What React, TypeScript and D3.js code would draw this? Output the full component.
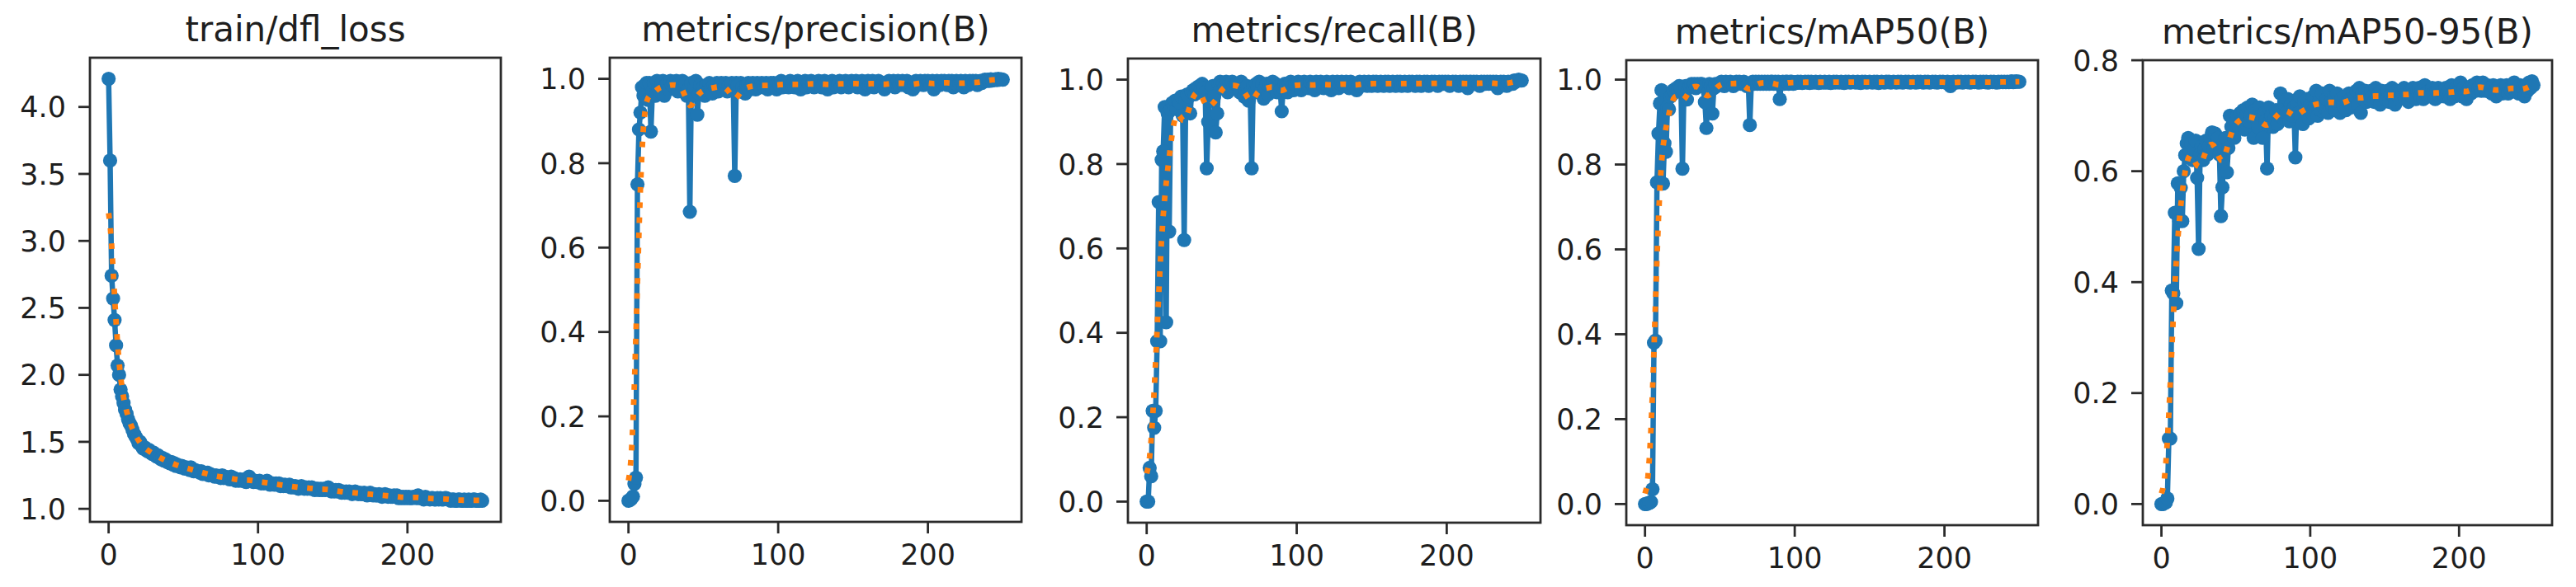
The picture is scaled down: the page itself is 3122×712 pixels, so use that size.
import React from 'react';
import * as d3 from 'd3';

// ---------------- data ----------------
const EPOCH_COUNT = 251;
const epochs = d3.range(EPOCH_COUNT);

const titles = [
  'train/dfl_loss',
  'metrics/precision(B)',
  'metrics/recall(B)',
  'metrics/mAP50(B)',
  'metrics/mAP50-95(B)',
];

const xTicks = [0, 100, 200];
const yTicksLoss = [1.0, 1.5, 2.0, 2.5, 3.0, 3.5, 4.0];
const yTicksUnit = [0.0, 0.2, 0.4, 0.6, 0.8, 1.0];
const yTicksMap95 = [0.0, 0.2, 0.4, 0.6, 0.8];

const dflLoss = [
  4.21, 3.60, 2.74, 2.57, 2.41, 2.22, 2.07, 2.00, 1.89, 1.84,
  1.79, 1.74, 1.71, 1.67, 1.64, 1.62, 1.59, 1.56, 1.54, 1.52,
  1.49, 1.50, 1.47, 1.45, 1.46, 1.44, 1.43, 1.44, 1.42, 1.41,
  1.42, 1.40, 1.39, 1.40, 1.38, 1.37, 1.38, 1.36, 1.37, 1.35,
  1.35, 1.34, 1.35, 1.33, 1.34, 1.32, 1.33, 1.32, 1.31, 1.32,
  1.31, 1.30, 1.31, 1.30, 1.29, 1.31, 1.29, 1.28, 1.29, 1.28,
  1.28, 1.27, 1.28, 1.26, 1.27, 1.26, 1.27, 1.25, 1.26, 1.25,
  1.25, 1.24, 1.25, 1.24, 1.24, 1.23, 1.25, 1.23, 1.24, 1.23,
  1.23, 1.22, 1.24, 1.22, 1.23, 1.21, 1.22, 1.21, 1.22, 1.21,
  1.21, 1.22, 1.20, 1.21, 1.24, 1.22, 1.21, 1.20, 1.21, 1.20,
  1.20, 1.21, 1.19, 1.20, 1.19, 1.20, 1.21, 1.19, 1.18, 1.19,
  1.19, 1.18, 1.19, 1.18, 1.19, 1.17, 1.18, 1.17, 1.18, 1.17,
  1.17, 1.18, 1.16, 1.17, 1.16, 1.17, 1.16, 1.15, 1.16, 1.17,
  1.16, 1.15, 1.16, 1.15, 1.16, 1.15, 1.16, 1.15, 1.14, 1.15,
  1.15, 1.14, 1.15, 1.14, 1.15, 1.14, 1.15, 1.16, 1.14, 1.13,
  1.14, 1.13, 1.14, 1.13, 1.14, 1.13, 1.12, 1.13, 1.12, 1.13,
  1.12, 1.13, 1.12, 1.11, 1.12, 1.13, 1.12, 1.11, 1.12, 1.11,
  1.11, 1.12, 1.11, 1.10, 1.11, 1.12, 1.11, 1.10, 1.11, 1.10,
  1.10, 1.11, 1.10, 1.09, 1.10, 1.11, 1.10, 1.09, 1.10, 1.09,
  1.09, 1.10, 1.09, 1.10, 1.08, 1.09, 1.08, 1.09, 1.08, 1.09,
  1.08, 1.09, 1.08, 1.08, 1.09, 1.09, 1.08, 1.10, 1.08, 1.08,
  1.08, 1.07, 1.09, 1.08, 1.08, 1.07, 1.08, 1.08, 1.07, 1.07,
  1.08, 1.07, 1.08, 1.07, 1.07, 1.08, 1.08, 1.07, 1.07, 1.06,
  1.07, 1.07, 1.06, 1.06, 1.07, 1.07, 1.06, 1.06, 1.07, 1.06,
  1.06, 1.07, 1.06, 1.06, 1.07, 1.07, 1.06, 1.06, 1.06, 1.07,
  1.06,
];

const precision = [
  0.0, 0.002, 0.005, 0.01, 0.04, 0.055, 0.75, 0.88, 0.92, 0.98,
  0.96, 0.985, 0.99, 0.95, 0.99, 0.875, 0.97, 0.99, 0.96, 0.995,
  0.98, 0.97, 0.99, 0.995, 0.96, 0.985, 0.99, 0.975, 0.995, 0.985,
  0.99, 0.98, 0.995, 0.97, 0.99, 0.985, 0.995, 0.98, 0.99, 0.96,
  0.975, 0.685, 0.99, 0.96, 0.98, 0.995, 0.915, 0.965, 0.985, 0.97,
  0.98, 0.96, 0.985, 0.97, 0.99, 0.975, 0.965, 0.985, 0.98, 0.99,
  0.97, 0.985, 0.99, 0.975, 0.98, 0.99, 0.97, 0.985, 0.975, 0.99,
  0.975, 0.77, 0.99, 0.985, 0.97, 0.99, 0.98, 0.97, 0.965, 0.985,
  0.99, 0.975, 0.985, 0.99, 0.98, 0.975, 0.99, 0.985, 0.98, 0.99,
  0.985, 0.98, 0.99, 0.975, 0.985, 0.99, 0.98, 0.99, 0.985, 0.975,
  0.99, 0.985, 0.995, 0.98, 0.99, 0.985, 0.99, 0.98, 0.995, 0.985,
  0.99, 0.98, 0.985, 0.995, 0.99, 0.975, 0.99, 0.985, 0.995, 0.98,
  0.99, 0.985, 0.995, 0.99, 0.98, 0.99, 0.985, 0.995, 0.99, 0.98,
  0.985, 0.995, 0.99, 0.975, 0.99, 0.985, 0.995, 0.98, 0.99, 0.985,
  0.99, 0.995, 0.98, 0.99, 0.985, 0.995, 0.99, 0.98, 0.99, 0.995,
  0.985, 0.99, 0.995, 0.98, 0.99, 0.985, 0.995, 0.99, 0.975, 0.99,
  0.995, 0.985, 0.99, 0.995, 0.98, 0.99, 0.985, 0.995, 0.99, 0.985,
  0.99, 0.975, 0.985, 0.99, 0.995, 0.985, 0.99, 0.995, 0.98, 0.99,
  0.995, 0.985, 0.99, 0.995, 0.985, 0.99, 0.995, 0.98, 0.99, 0.985,
  0.975, 0.99, 0.995, 0.985, 0.99, 0.995, 0.99, 0.985, 0.995, 0.99,
  0.995, 0.99, 0.985, 0.995, 0.975, 0.99, 0.995, 0.99, 0.985, 0.995,
  0.99, 0.995, 0.99, 0.985, 0.995, 0.99, 0.995, 0.98, 0.99, 0.995,
  0.985, 0.99, 0.995, 0.99, 0.98, 0.995, 0.99, 0.985, 0.995, 0.99,
  0.995, 0.99, 0.995, 0.985, 0.99, 0.995, 0.99, 0.995, 0.998, 0.995,
  0.998, 0.995, 0.999, 0.996, 0.998, 0.999, 0.997, 1.0, 0.998, 0.999,
  0.998,
];

const recall = [
  0.0, 0.0, 0.08, 0.06, 0.215, 0.175, 0.215, 0.38, 0.71, 0.38,
  0.81, 0.83, 0.935, 0.425, 0.92, 0.64, 0.93, 0.945, 0.94, 0.95,
  0.93, 0.95, 0.945, 0.96, 0.915, 0.62, 0.95, 0.965, 0.96, 0.92,
  0.97, 0.975, 0.965, 0.98, 0.97, 0.985, 0.975, 0.99, 0.98, 0.97,
  0.79, 0.90, 0.95, 0.98, 0.985, 0.96, 0.875, 0.92, 0.99, 0.995,
  0.98, 0.99, 0.985, 0.995, 0.97, 0.99, 0.98, 0.995, 0.985, 0.99,
  0.99, 0.985, 0.97, 0.995, 0.99, 0.96, 0.975, 0.985, 0.95, 0.97,
  0.79, 0.985, 0.97, 0.99, 0.98, 0.995, 0.97, 0.99, 0.955, 0.98,
  0.99, 0.965, 0.985, 0.99, 0.995, 0.98, 0.99, 0.97, 0.985, 0.975,
  0.925, 0.98, 0.99, 0.985, 0.97, 0.99, 0.995, 0.985, 0.975, 0.99,
  0.985, 0.995, 0.99, 0.975, 0.99, 0.995, 0.985, 0.99, 0.98, 0.995,
  0.99, 0.985, 0.975, 0.995, 0.99, 0.985, 0.995, 0.99, 0.98, 0.99,
  0.995, 0.985, 0.99, 0.975, 0.995, 0.99, 0.985, 0.995, 0.98, 0.99,
  0.995, 0.99, 0.985, 0.995, 0.99, 0.98, 0.995, 0.99, 0.985, 0.99,
  0.975, 0.99, 0.995, 0.985, 0.99, 0.995, 0.99, 0.985, 0.995, 0.99,
  0.985, 0.995, 0.99, 0.995, 0.985, 0.99, 0.995, 0.99, 0.985, 0.995,
  0.99, 0.995, 0.985, 0.99, 0.995, 0.99, 0.985, 0.995, 0.99, 0.995,
  0.985, 0.99, 0.995, 0.99, 0.985, 0.995, 0.99, 0.995, 0.99, 0.985,
  0.995, 0.99, 0.995, 0.985, 0.99, 0.995, 0.99, 0.995, 0.985, 0.99,
  0.995, 0.99, 0.995, 0.99, 0.985, 0.995, 0.99, 0.995, 0.99, 0.995,
  0.99, 0.995, 0.985, 0.99, 0.995, 0.99, 0.995, 0.99, 0.985, 0.995,
  0.99, 0.995, 0.99, 0.995, 0.98, 0.99, 0.995, 0.99, 0.995, 0.99,
  0.995, 0.99, 0.985, 0.995, 0.99, 0.995, 0.99, 0.995, 0.99, 0.995,
  0.99, 0.995, 0.99, 0.995, 0.98, 0.99, 0.995, 0.99, 0.995, 0.99,
  0.985, 0.995, 0.99, 0.995, 0.99, 0.998, 0.995, 0.998, 1.0, 0.998,
  0.998,
];

const mAP50 = [
  0.0, 0.0, 0.002, 0.003, 0.005, 0.035, 0.38, 0.385, 0.758, 0.873,
  0.944, 0.975, 0.755, 0.85, 0.83, 0.935, 0.93, 0.96, 0.965, 0.975,
  0.97, 0.98, 0.975, 0.985, 0.98, 0.79, 0.975, 0.985, 0.953, 0.98,
  0.985, 0.99, 0.985, 0.99, 0.98, 0.99, 0.985, 0.99, 0.99, 0.985,
  0.947, 0.886, 0.97, 0.99, 0.985, 0.92, 0.98, 0.99, 0.985, 0.99,
  0.99, 0.995, 0.99, 0.985, 0.995, 0.99, 0.99, 0.995, 0.99, 0.985,
  0.99, 0.995, 0.99, 0.995, 0.99, 0.99, 0.995, 0.99, 0.985, 0.99,
  0.893, 0.99, 0.995, 0.99, 0.995, 0.99, 0.995, 0.99, 0.995, 0.99,
  0.995, 0.99, 0.995, 0.99, 0.995, 0.995, 0.99, 0.995, 0.99, 0.995,
  0.954, 0.99, 0.995, 0.99, 0.995, 0.995, 0.99, 0.995, 0.995, 0.99,
  0.994, 0.992, 0.995, 0.993, 0.995, 0.992, 0.994, 0.995, 0.993, 0.995,
  0.992, 0.995, 0.994, 0.993, 0.995, 0.994, 0.992, 0.995, 0.994, 0.993,
  0.995, 0.993, 0.994, 0.995, 0.992, 0.994, 0.995, 0.993, 0.995, 0.994,
  0.993, 0.995, 0.994, 0.992, 0.995, 0.994, 0.995, 0.993, 0.994, 0.995,
  0.994, 0.993, 0.995, 0.994, 0.992, 0.995, 0.994, 0.995, 0.993, 0.994,
  0.995, 0.994, 0.993, 0.995, 0.994, 0.995, 0.992, 0.994, 0.995, 0.994,
  0.993, 0.995, 0.994, 0.995, 0.993, 0.994, 0.995, 0.994, 0.993, 0.995,
  0.994, 0.995, 0.993, 0.994, 0.995, 0.994, 0.995, 0.993, 0.994, 0.995,
  0.994, 0.993, 0.995, 0.994, 0.995, 0.994, 0.993, 0.995, 0.994, 0.995,
  0.993, 0.994, 0.995, 0.994, 0.995, 0.993, 0.994, 0.995, 0.994, 0.995,
  0.994, 0.993, 0.995, 0.994, 0.985, 0.994, 0.995, 0.994, 0.993, 0.995,
  0.994, 0.995, 0.993, 0.994, 0.995, 0.994, 0.995, 0.993, 0.994, 0.995,
  0.994, 0.995, 0.994, 0.993, 0.995, 0.994, 0.995, 0.994, 0.995, 0.993,
  0.994, 0.995, 0.994, 0.995, 0.994, 0.993, 0.995, 0.994, 0.995, 0.994,
  0.995, 0.994, 0.995, 0.994, 0.995, 0.996, 0.994, 0.995, 0.996, 0.995,
  0.995,
];

const mAP5095 = [
  0.0, 0.0, 0.002, 0.003, 0.01, 0.118, 0.118, 0.385, 0.38, 0.525,
  0.362, 0.578, 0.51, 0.57, 0.51, 0.60, 0.629, 0.65, 0.66, 0.64,
  0.65, 0.62, 0.64, 0.655, 0.588, 0.46, 0.63, 0.645, 0.62, 0.64,
  0.655, 0.63, 0.645, 0.66, 0.67, 0.64, 0.668, 0.65, 0.66, 0.63,
  0.519, 0.571, 0.64, 0.66, 0.598, 0.642, 0.70, 0.68, 0.695, 0.66,
  0.69, 0.70, 0.68, 0.705, 0.69, 0.71, 0.675, 0.70, 0.715, 0.69,
  0.70, 0.72, 0.66, 0.71, 0.695, 0.68, 0.715, 0.70, 0.66, 0.705,
  0.69, 0.605, 0.715, 0.69, 0.70, 0.68, 0.695, 0.71, 0.685, 0.70,
  0.74, 0.70, 0.695, 0.72, 0.705, 0.73, 0.69, 0.72, 0.70, 0.715,
  0.625, 0.72, 0.705, 0.735, 0.70, 0.685, 0.725, 0.71, 0.73, 0.695,
  0.72, 0.705, 0.735, 0.715, 0.745, 0.70, 0.725, 0.71, 0.74, 0.715,
  0.72, 0.73, 0.705, 0.745, 0.725, 0.715, 0.735, 0.71, 0.74, 0.72,
  0.705, 0.73, 0.72, 0.735, 0.71, 0.725, 0.74, 0.73, 0.715, 0.74,
  0.735, 0.745, 0.72, 0.75, 0.705, 0.74, 0.73, 0.745, 0.725, 0.735,
  0.73, 0.745, 0.735, 0.725, 0.75, 0.73, 0.74, 0.72, 0.745, 0.735,
  0.74, 0.73, 0.745, 0.725, 0.74, 0.75, 0.735, 0.72, 0.745, 0.735,
  0.73, 0.745, 0.74, 0.75, 0.73, 0.74, 0.725, 0.745, 0.735, 0.75,
  0.74, 0.73, 0.745, 0.75, 0.735, 0.745, 0.73, 0.755, 0.74, 0.735,
  0.745, 0.735, 0.75, 0.74, 0.73, 0.745, 0.75, 0.735, 0.74, 0.745,
  0.735, 0.75, 0.74, 0.745, 0.73, 0.755, 0.74, 0.735, 0.75, 0.74,
  0.745, 0.76, 0.735, 0.75, 0.74, 0.73, 0.745, 0.75, 0.74, 0.755,
  0.75, 0.745, 0.76, 0.75, 0.755, 0.745, 0.76, 0.75, 0.745, 0.755,
  0.745, 0.75, 0.74, 0.755, 0.745, 0.735, 0.75, 0.745, 0.755, 0.74,
  0.75, 0.745, 0.755, 0.74, 0.75, 0.745, 0.755, 0.76, 0.745, 0.75,
  0.74, 0.755, 0.745, 0.75, 0.735, 0.755, 0.745, 0.76, 0.75, 0.762,
  0.755,
];

const seriesList = [dflLoss, precision, recall, mAP50, mAP5095];
const yTickList = [yTicksLoss, yTicksUnit, yTicksUnit, yTicksUnit, yTicksMap95];

// ---------------- layout ----------------
const W = 3122;
const H = 712;
const panelBoxes = [
  { left: 109, top: 70, width: 498, height: 563 },
  { left: 739, top: 70, width: 499, height: 563 },
  { left: 1367, top: 71, width: 500, height: 563 },
  { left: 1971, top: 73, width: 499, height: 564 },
  { left: 2597, top: 73, width: 496, height: 564 },
];

const BLUE = '#1f77b4';
const ORANGE = '#ff7f0e';
const FRAME = '#2b2b2b';
const TEXT = '#1e1e1e';
const FONT = '"DejaVu Sans", Verdana, sans-serif';

// scipy.ndimage.gaussian_filter1d (mode='reflect', truncate=4)
function gaussianSmooth(y: number[], sigma: number): number[] {
  const radius = Math.round(4 * sigma);
  const w: number[] = [];
  for (let k = -radius; k <= radius; k++) w.push(Math.exp(-0.5 * (k * k) / (sigma * sigma)));
  const sum = d3.sum(w);
  const n = y.length;
  const idx = (i: number) => {
    let j = i;
    while (j < 0 || j >= n) {
      if (j < 0) j = -j - 1;
      if (j >= n) j = 2 * n - j - 1;
    }
    return j;
  };
  return y.map((_, i) => {
    let s = 0;
    for (let k = -radius; k <= radius; k++) s += w[k + radius] * y[idx(i + k)];
    return s / sum;
  });
}

function Panel({ idx }: { idx: number }) {
  const box = panelBoxes[idx];
  const ys = seriesList[idx];
  const [mn, mx] = d3.extent(ys) as [number, number];
  const r = mx - mn;
  const xs = epochs;
  const [xmn, xmx] = d3.extent(xs) as [number, number];
  const xr = xmx - xmn;
  const x = d3.scaleLinear().domain([xmn - 0.05 * xr, xmx + 0.05 * xr]).range([box.left, box.left + box.width]);
  const y = d3.scaleLinear().domain([mn - 0.05 * r, mx + 0.05 * r]).range([box.top + box.height, box.top]);
  const pts = xs.map((e, i) => [e, ys[i]] as [number, number]);
  const smooth = gaussianSmooth(ys, 3);
  const line = d3.line<[number, number]>().x((d) => x(d[0])).y((d) => y(d[1]));
  const smoothPts = xs.map((e, i) => [e, smooth[i]] as [number, number]);
  const fmt = d3.format('.1f');
  const bottom = box.top + box.height;
  const TL = 14;
  return (
    <g>
      <path d={line(pts) || ''} fill="none" stroke={BLUE} strokeWidth={6.5} strokeLinejoin="round" />
      {pts.map((p, i) => (
        <circle key={i} cx={x(p[0])} cy={y(p[1])} r={8.6} fill={BLUE} />
      ))}
      <path
        d={line(smoothPts) || ''}
        fill="none"
        stroke={ORANGE}
        strokeWidth={6.8}
        strokeDasharray="6.8 11.6"
        strokeLinecap="butt"
      />
      <rect x={box.left} y={box.top} width={box.width} height={box.height} fill="none" stroke={FRAME} strokeWidth={2.8} />
      {yTickList[idx].map((t) => (
        <g key={'y' + t}>
          <line x1={box.left - TL} x2={box.left} y1={y(t)} y2={y(t)} stroke={FRAME} strokeWidth={2.8} />
          <text x={box.left - TL - 15} y={y(t)} dy="0.36em" textAnchor="end" fontSize={35} fontFamily={FONT} fill={TEXT}>
            {fmt(t)}
          </text>
        </g>
      ))}
      {xTicks.map((t) => (
        <g key={'x' + t}>
          <line x1={x(t)} x2={x(t)} y1={bottom} y2={bottom + TL} stroke={FRAME} strokeWidth={2.8} />
          <text x={x(t)} y={bottom + 52} textAnchor="middle" fontSize={35} fontFamily={FONT} fill={TEXT}>
            {t}
          </text>
        </g>
      ))}
      <text x={box.left + box.width / 2} y={box.top - 20} textAnchor="middle" fontSize={42} fontFamily={FONT} fill={TEXT}>
        {titles[idx]}
      </text>
    </g>
  );
}

export default function App() {
  return (
    <svg
      width={W}
      height={H}
      viewBox={`0 0 ${W} ${H}`}
      style={{ position: 'absolute', left: 0, top: 0, background: '#fff' }}
    >
      <rect x={0} y={0} width={W} height={H} fill="#fff" />
      {panelBoxes.map((_, i) => (
        <Panel key={i} idx={i} />
      ))}
    </svg>
  );
}
